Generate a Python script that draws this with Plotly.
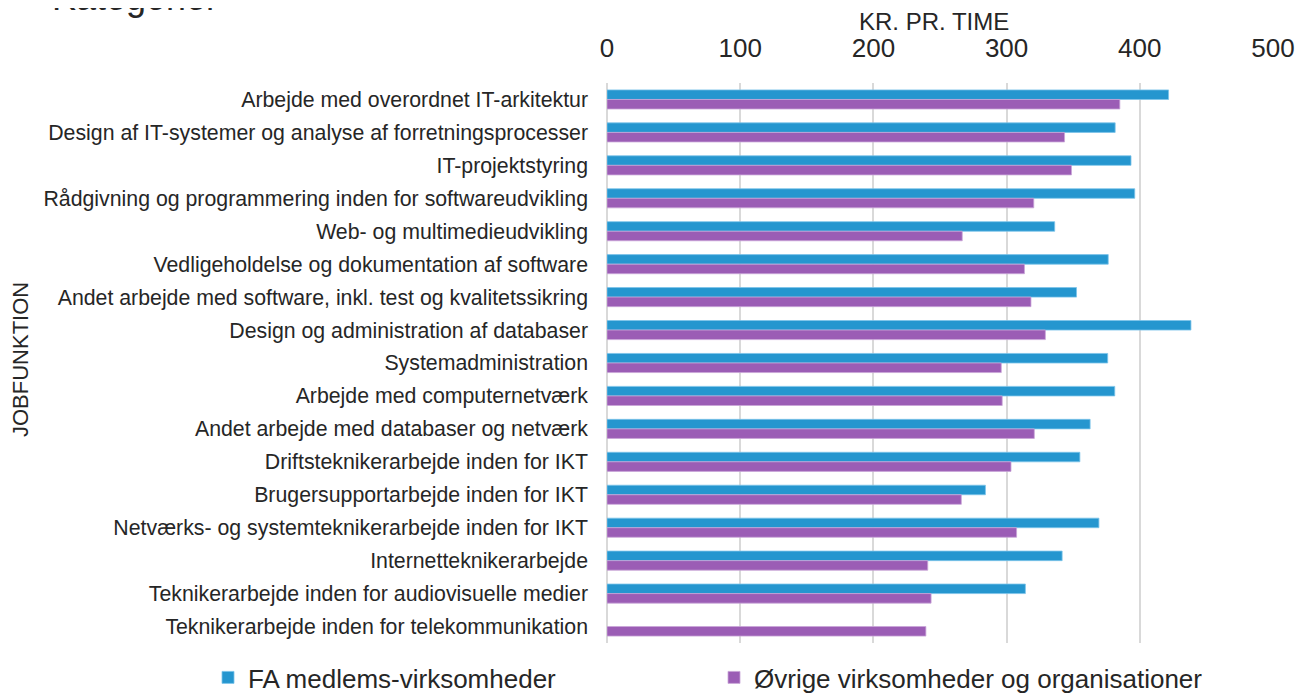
"""Timeløn pr. jobfunktion: FA medlemmer vs. øvrige."""

import plotly.graph_objects as go

categories = [
    "Arbejde med overordnet IT-arkitektur",
    "Design af IT-systemer og analyse af forretningsprocesser",
    "IT-projektstyring",
    "Rådgivning og programmering inden for softwareudvikling",
    "Web- og multimedieudvikling",
    "Vedligeholdelse og dokumentation af software",
    "Andet arbejde med software, inkl. test og kvalitetssikring",
    "Design og administration af databaser",
    "Systemadministration",
    "Arbejde med computernetværk",
    "Andet arbejde med databaser og netværk",
    "Driftsteknikerarbejde inden for IKT",
    "Brugersupportarbejde inden for IKT",
    "Netværks- og systemteknikerarbejde inden for IKT",
    "Internetteknikerarbejde",
    "Teknikerarbejde inden for audiovisuelle medier",
    "Teknikerarbejde inden for telekommunikation",
]

fa_members = [421.6, 381.5, 393.4, 396.2, 336.1, 376.3, 352.5, 438.4, 375.9,
              381.2, 362.7, 355.0, 284.1, 369.3, 341.7, 314.1, None]
others = [385.0, 343.5, 348.7, 320.4, 266.7, 313.4, 318.3, 329.1, 296.0,
          296.7, 320.8, 303.3, 266.0, 307.5, 240.8, 243.3, 239.4]

x_ticks = [0, 100, 200, 300, 400, 500]

BLUE = "#2596cf"
PURPLE = "#9b5db5"
TEXT = "#262626"
FONT = "Liberation Sans, Arial, sans-serif"

# page body has an 8px margin, so the figure is 8px smaller than the window
W, H = 1301, 690
L, R, T, B = 599, 36, 75, 55
plot_w = W - L - R
plot_h = H - T - B


def px_x(x):
    """Screen x pixel -> paper x."""
    return (x - 8 - L) / plot_w


def px_y(y):
    """Screen y pixel -> paper y."""
    return (H - B - (y - 8)) / plot_h


fig = go.Figure()
fig.add_trace(go.Bar(
    y=categories, x=fa_members, orientation="h", name="FA medlems-virksomheder",
    marker=dict(color=BLUE, line=dict(color="#7cc4ea", width=0.8)),
))
fig.add_trace(go.Bar(
    y=categories, x=others, orientation="h",
    name="Øvrige virksomheder og organisationer",
    marker=dict(color=PURPLE, line=dict(color="#c9a6d8", width=0.8)),
))

fig.update_xaxes(
    side="top", range=[0, 500], tickvals=x_ticks, automargin=False,
    tickfont=dict(size=26, color=TEXT), ticklabelstandoff=20,
    showgrid=True, gridcolor="#d9d9d9", gridwidth=1.5,
    zeroline=True, zerolinecolor="#d9d9d9", zerolinewidth=1.5,
    showline=False, ticks="",
)
fig.update_yaxes(
    autorange="reversed", automargin=False, tickfont=dict(size=21.3, color=TEXT),
    showgrid=False, ticks="", ticklabelstandoff=18,
)

# axis titles placed by hand, as in the original
fig.add_annotation(
    text="KR. PR. TIME", xref="paper", yref="paper",
    x=px_x(934), y=px_y(22), xanchor="center", yanchor="middle",
    showarrow=False, font=dict(size=24, color=TEXT),
)
fig.add_annotation(
    text="JOBFUNKTION", textangle=-90, xref="paper", yref="paper",
    x=px_x(20), y=px_y(360), xanchor="center", yanchor="middle",
    showarrow=False, font=dict(size=22, color=TEXT),
)

# Clipped chart heading at the very top edge, only the lower part shows.
fig.add_annotation(
    text="Kategorier", xref="paper", yref="paper", x=px_x(50),
    y=px_y(19.5), xanchor="left", yanchor="bottom", showarrow=False,
    font=dict(size=36, color=TEXT, family=FONT),
)

fig.update_layout(
    width=W, height=H,
    font=dict(family=FONT, color=TEXT),
    barmode="group", bargap=0.42, bargroupgap=0,
    plot_bgcolor="white", paper_bgcolor="white",
    margin=dict(l=L, r=R, t=T, b=B, autoexpand=False),
    legend=dict(
        orientation="h", x=px_x(208), y=px_y(654), xanchor="left",
        yanchor="top", font=dict(size=26, color=TEXT), entrywidth=461,
        traceorder="normal",
    ),
)

fig.write_html("out.html")
